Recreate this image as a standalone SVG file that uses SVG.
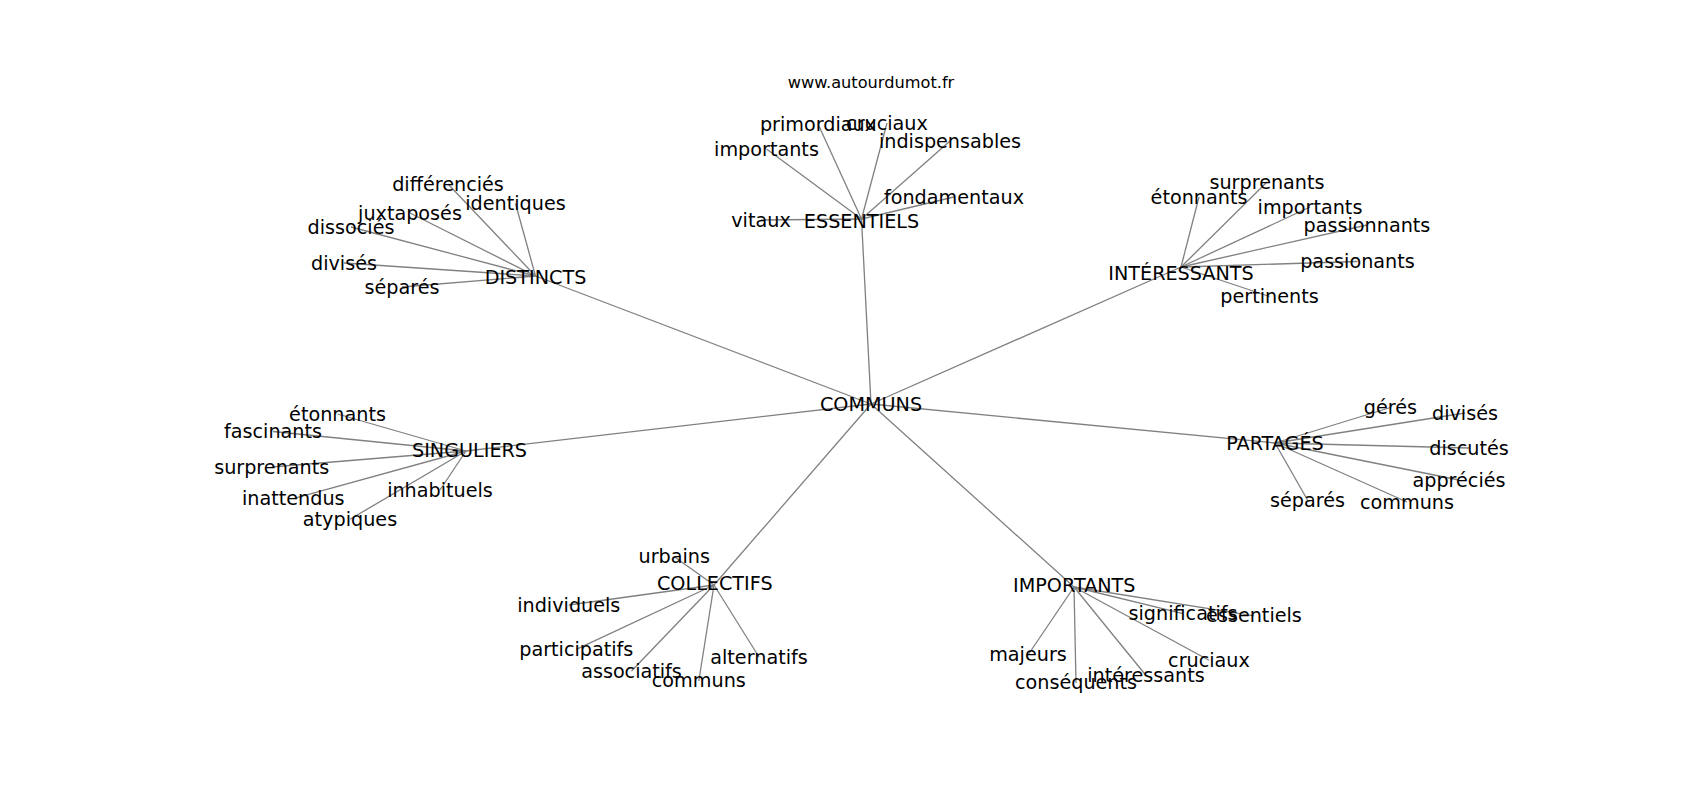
<svg xmlns="http://www.w3.org/2000/svg" width="1700" height="800" viewBox="0 0 1700 800">
<style>
text{font-family:"DejaVu Sans",sans-serif;font-size:19.2px;fill:#000;text-anchor:middle}
.title{font-size:16.2px}
#edges line{stroke:#808080;stroke-width:1.3}
</style>
<rect width="1700" height="800" fill="#fff"/>
<text class="title" x="871" y="88">www.autourdumot.fr</text>
<g id="edges">
<line x1="871" y1="404" x2="861.5" y2="219"/>
<line x1="871" y1="404" x2="535.5" y2="276"/>
<line x1="871" y1="404" x2="1181" y2="267"/>
<line x1="871" y1="404" x2="1275" y2="443"/>
<line x1="871" y1="404" x2="466" y2="451"/>
<line x1="871" y1="404" x2="714" y2="585"/>
<line x1="871" y1="404" x2="1074" y2="587"/>
<line x1="861.5" y1="219" x2="761" y2="220"/>
<line x1="861.5" y1="219" x2="766.5" y2="149"/>
<line x1="861.5" y1="219" x2="818" y2="124"/>
<line x1="861.5" y1="219" x2="887" y2="123"/>
<line x1="861.5" y1="219" x2="950" y2="141"/>
<line x1="861.5" y1="219" x2="954" y2="197"/>
<line x1="535.5" y1="276" x2="448" y2="184"/>
<line x1="535.5" y1="276" x2="515.5" y2="203.5"/>
<line x1="535.5" y1="276" x2="410" y2="213"/>
<line x1="535.5" y1="276" x2="351" y2="227"/>
<line x1="535.5" y1="276" x2="344" y2="263"/>
<line x1="535.5" y1="276" x2="402" y2="287"/>
<line x1="1181" y1="267" x2="1199" y2="197"/>
<line x1="1181" y1="267" x2="1267" y2="182"/>
<line x1="1181" y1="267" x2="1310" y2="207"/>
<line x1="1181" y1="267" x2="1367" y2="225"/>
<line x1="1181" y1="267" x2="1357.5" y2="261.5"/>
<line x1="1181" y1="267" x2="1269.5" y2="296.5"/>
<line x1="1275" y1="443" x2="1390.5" y2="407.5"/>
<line x1="1275" y1="443" x2="1465" y2="413"/>
<line x1="1275" y1="443" x2="1469" y2="448"/>
<line x1="1275" y1="443" x2="1459" y2="480"/>
<line x1="1275" y1="443" x2="1407" y2="502"/>
<line x1="1275" y1="443" x2="1307.5" y2="500"/>
<line x1="466" y1="451" x2="337.5" y2="414"/>
<line x1="466" y1="451" x2="273" y2="431.5"/>
<line x1="466" y1="451" x2="271.7" y2="467"/>
<line x1="466" y1="451" x2="293.3" y2="498.7"/>
<line x1="466" y1="451" x2="350" y2="519.3"/>
<line x1="466" y1="451" x2="440" y2="490"/>
<line x1="714" y1="585" x2="674.3" y2="556.7"/>
<line x1="714" y1="585" x2="568.8" y2="605"/>
<line x1="714" y1="585" x2="576.3" y2="649.4"/>
<line x1="714" y1="585" x2="631.5" y2="671"/>
<line x1="714" y1="585" x2="698.8" y2="681"/>
<line x1="714" y1="585" x2="759" y2="657"/>
<line x1="1074" y1="587" x2="1183" y2="613.7"/>
<line x1="1074" y1="587" x2="1254" y2="615.8"/>
<line x1="1074" y1="587" x2="1028" y2="655"/>
<line x1="1074" y1="587" x2="1076" y2="683"/>
<line x1="1074" y1="587" x2="1146" y2="675.5"/>
<line x1="1074" y1="587" x2="1209" y2="660.3"/>
</g>
<g id="n-communs"><text x="871" y="411">COMMUNS</text></g>
<g id="n-essentiels"><text x="861.5" y="227.5">ESSENTIELS</text></g>
<g id="n-ess-vitaux"><text x="761" y="226.5">vitaux</text></g>
<g id="n-ess-importants"><text x="766.5" y="155.5">importants</text></g>
<g id="n-ess-primordiaux"><text x="818" y="130.5">primordiaux</text></g>
<g id="n-ess-cruciaux"><text x="887" y="129.5">cruciaux</text></g>
<g id="n-ess-indispensables"><text x="950" y="147.5">indispensables</text></g>
<g id="n-ess-fondamentaux"><text x="954" y="203.5">fondamentaux</text></g>
<g id="n-distincts"><text x="535.5" y="283.5">DISTINCTS</text></g>
<g id="n-dis-differencies"><text x="448" y="190.5">différenciés</text></g>
<g id="n-dis-identiques"><text x="515.5" y="210">identiques</text></g>
<g id="n-dis-juxtaposes"><text x="410" y="219.5">juxtaposés</text></g>
<g id="n-dis-dissocies"><text x="351" y="233.5">dissociés</text></g>
<g id="n-dis-divises"><text x="344" y="269.5">divisés</text></g>
<g id="n-dis-separes"><text x="402" y="293.5">séparés</text></g>
<g id="n-interessants"><text x="1181" y="279.5">INTÉRESSANTS</text></g>
<g id="n-int-etonnants"><text x="1199" y="203.5">étonnants</text></g>
<g id="n-int-surprenants"><text x="1267" y="188.5">surprenants</text></g>
<g id="n-int-importants"><text x="1310" y="213.5">importants</text></g>
<g id="n-int-passionnants"><text x="1367" y="231.5">passionnants</text></g>
<g id="n-int-passionants"><text x="1357.5" y="268">passionants</text></g>
<g id="n-int-pertinents"><text x="1269.5" y="303">pertinents</text></g>
<g id="n-partages"><text x="1275" y="450">PARTAGÉS</text></g>
<g id="n-par-geres"><text x="1390.5" y="414">gérés</text></g>
<g id="n-par-divises"><text x="1465" y="419.5">divisés</text></g>
<g id="n-par-discutes"><text x="1469" y="454.5">discutés</text></g>
<g id="n-par-apprecies"><text x="1459" y="486.5">appréciés</text></g>
<g id="n-par-communs"><text x="1407" y="508.5">communs</text></g>
<g id="n-par-separes"><text x="1307.5" y="506.5">séparés</text></g>
<g id="n-singuliers"><text x="469.5" y="457">SINGULIERS</text></g>
<g id="n-sin-etonnants"><text x="337.5" y="420.5">étonnants</text></g>
<g id="n-sin-fascinants"><text x="273" y="438">fascinants</text></g>
<g id="n-sin-surprenants"><text x="271.7" y="473.5">surprenants</text></g>
<g id="n-sin-inattendus"><text x="293.3" y="505">inattendus</text></g>
<g id="n-sin-atypiques"><text x="350" y="525.5">atypiques</text></g>
<g id="n-sin-inhabituels"><text x="440" y="496.5">inhabituels</text></g>
<g id="n-collectifs"><text x="714.8" y="590">COLLECTIFS</text></g>
<g id="n-col-urbains"><text x="674.3" y="563">urbains</text></g>
<g id="n-col-individuels"><text x="568.8" y="611.5">individuels</text></g>
<g id="n-col-participatifs"><text x="576.3" y="655.5">participatifs</text></g>
<g id="n-col-associatifs"><text x="631.5" y="677.5">associatifs</text></g>
<g id="n-col-communs"><text x="698.8" y="687">communs</text></g>
<g id="n-col-alternatifs"><text x="759" y="663.5">alternatifs</text></g>
<g id="n-importants"><text x="1074.3" y="592">IMPORTANTS</text></g>
<g id="n-imp-significatifs"><text x="1183" y="620">significatifs</text></g>
<g id="n-imp-essentiels"><text x="1254" y="622">essentiels</text></g>
<g id="n-imp-majeurs"><text x="1028" y="661">majeurs</text></g>
<g id="n-imp-consequents"><text x="1076" y="689">conséquents</text></g>
<g id="n-imp-interessants"><text x="1146" y="681.5">intéressants</text></g>
<g id="n-imp-cruciaux"><text x="1209" y="666.5">cruciaux</text></g>
</svg>
